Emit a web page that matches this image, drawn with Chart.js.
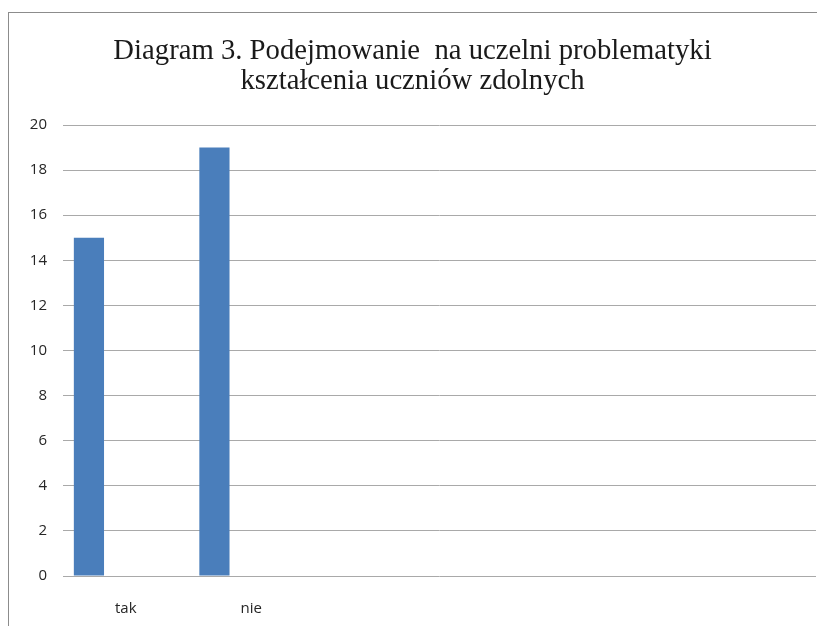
<!DOCTYPE html>
<html>
<head>
<meta charset="utf-8">
<script src="https://cdn.jsdelivr.net/npm/chart.js@4/dist/chart.umd.min.js"></script>
<style>
    html, body { margin: 0; padding: 0; background: #fff; }
    #frame {
        position: absolute; left: 8px; top: 12px;
        width: 809px; height: 614px;
        border-top: 1px solid #8c8c8c; border-left: 1px solid #8c8c8c;
    }
    #chart { display: block; }
</style>
</head>
<body>
<div id="frame"><canvas id="chart" width="808" height="613"></canvas></div>
<script>
// Categories (only the first two are labelled in the source).
const categories = ['tak', 'nie', '', '', '', ''];
// Answers count per category.
const answers = [15, 19, null, null, null, null];
// Empty series the original sheet kept next to the answers.
const emptySeriesA = [null, null, null, null, null, null];
const emptySeriesB = [null, null, null, null, null, null];
// Y axis ticks.
const yMin = 0;
const yMax = 20;
const yStep = 2;

const titleLines = ['Diagram 3. Podejmowanie  na uczelni problematyki', 'kształcenia uczniów zdolnych'];

const barColor = '#4a7ebb';
const gridColor = '#a9a9a9';
const tickFont = { family: '"Open Sans"', size: 15 };

new Chart(document.getElementById('chart'), {
    type: 'bar',
    data: {
        labels: categories,
        datasets: [
            { data: answers, backgroundColor: barColor },
            { data: emptySeriesA, backgroundColor: barColor },
            { data: emptySeriesB, backgroundColor: barColor }
        ]
    },
    options: {
        responsive: false,
        animation: false,
        categoryPercentage: 0.88,
        barPercentage: 0.82,
        layout: { padding: { left: 0, right: 1, top: 0, bottom: 0 } },
        plugins: {
            legend: { display: false },
            tooltip: { enabled: false },
            title: {
                display: true,
                text: titleLines,
                color: '#1a1a1a',
                font: { family: '"Liberation Serif"', size: 28.7, weight: 'normal', lineHeight: '30px' },
                padding: { top: 23, bottom: 29 }
            }
        },
        scales: {
            x: {
                grid: { display: false },
                border: { display: false },
                ticks: { color: '#262626', font: tickFont, padding: 16, maxRotation: 0 },
                afterFit: (scale) => { scale.height = 50; }
            },
            y: {
                min: yMin,
                max: yMax,
                ticks: { stepSize: yStep, color: '#262626', font: tickFont, padding: 16 },
                grid: { color: gridColor, drawTicks: false },
                border: { display: false },
                afterFit: (scale) => { scale.width = 54; }
            }
        }
    }
});
</script>
</body>
</html>
